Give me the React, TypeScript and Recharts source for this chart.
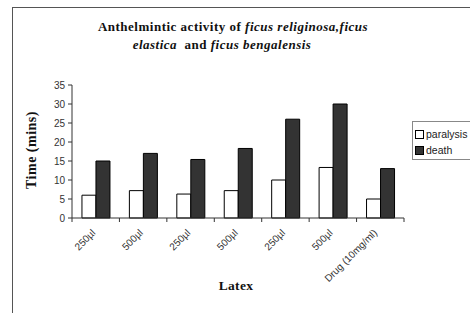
import { BarChart, Bar, XAxis, YAxis, Legend } from "recharts";

const categories = ["250µl", "500µl", "250µl", "500µl", "250µl", "500µl", "Drug (10mg/ml)"];
const paralysis = [6, 7.2, 6.3, 7.2, 10, 13.3, 5];
const death = [15, 17, 15.4, 18.3, 26, 30, 13];
const yTicks = [0, 5, 10, 15, 20, 25, 30, 35];

const data = categories.map((name, i) => ({ name, paralysis: paralysis[i], death: death[i] }));

// plot box in page pixels
const PLOT_LEFT = 72;
const PLOT_RIGHT = 404;
const PLOT_TOP = 85;
const PLOT_BOTTOM = 218;
const BAND = (PLOT_RIGHT - PLOT_LEFT) / categories.length;
const LEGEND_W = 66;

const serif = "'Liberation Serif', 'Times New Roman', serif";
const sans = "'Liberation Sans', Arial, sans-serif";

function CatTick(props: any) {
  const { x, payload, index } = props;
  const left = x - BAND / 2;
  const last = index === categories.length - 1;
  const ax = x - (last ? 5 : 2);
  const ay = PLOT_BOTTOM + 13;
  return (
    <g>
      <line x1={left} y1={PLOT_BOTTOM} x2={left} y2={PLOT_BOTTOM + 4} stroke="#333" />
      {last && <line x1={x + BAND / 2} y1={PLOT_BOTTOM} x2={x + BAND / 2} y2={PLOT_BOTTOM + 4} stroke="#333" />}
      <text
        x={ax}
        y={ay}
        transform={`rotate(-45, ${ax}, ${ay})`}
        textAnchor="end"
        dominantBaseline="central"
        fontFamily={sans}
        fontSize={10}
        fill="#333"
      >
        {payload.value}
      </text>
    </g>
  );
}

function LegendBox() {
  const row = (fill: string, label: string) => (
    <div style={{ display: "flex", alignItems: "center", height: 16 }}>
      <span
        style={{
          display: "inline-block",
          width: 7,
          height: 7,
          background: fill,
          border: "1px solid #000",
          marginRight: 2,
        }}
      />
      <span>{label}</span>
    </div>
  );
  return (
    <div
      style={{
        width: LEGEND_W,
        height: 39,
        boxSizing: "border-box",
        border: "1px solid #888",
        background: "#fff",
        fontFamily: sans,
        fontSize: 10.5,
        color: "#222",
        padding: "4px 0 0 2px",
        whiteSpace: "nowrap",
        overflow: "hidden",
      }}
    >
      {row("#fff", "paralysis")}
      {row("#333", "death")}
    </div>
  );
}

export default function App() {
  return (
    <div style={{ position: "absolute", left: 0, top: 0, width: 470, height: 313, overflow: "hidden", background: "#fff" }}>
      <div
        style={{
          position: "absolute",
          left: 12,
          top: 7,
          width: 480,
          height: 320,
          borderLeft: "1px solid #555",
          borderTop: "1px solid #555",
        }}
      />
      <div
        style={{
          position: "absolute",
          left: 0,
          top: 18,
          width: 466,
          textAlign: "center",
          fontFamily: serif,
          fontWeight: "bold",
          fontSize: 13,
          letterSpacing: 0.5,
          lineHeight: "18px",
          color: "#111",
        }}
      >
        <div>
          Anthelmintic activity of <i>ficus religinosa,ficus</i>
        </div>
        <div style={{ marginRight: 22 }}>
          <i>elastica</i>&nbsp; and <i>ficus bengalensis</i>
        </div>
      </div>
      <div
        style={{
          position: "absolute",
          left: 32,
          top: 150,
          transform: "translate(-50%, -50%) rotate(-90deg)",
          fontFamily: serif,
          fontWeight: "bold",
          fontSize: 14,
          letterSpacing: 0.5,
          whiteSpace: "nowrap",
          color: "#111",
        }}
      >
        Time (mins)
      </div>
      <div
        style={{
          position: "absolute",
          left: 236,
          top: 286,
          transform: "translate(-50%, -50%)",
          fontFamily: serif,
          fontWeight: "bold",
          fontSize: 13.5,
          letterSpacing: 0.3,
          color: "#111",
        }}
      >
        Latex
      </div>
      <div style={{ position: "absolute", left: 0, top: 0 }}>
        <BarChart
          width={470}
          height={313}
          data={data}
          margin={{ top: PLOT_TOP, left: PLOT_LEFT - 30, right: 470 - PLOT_RIGHT - LEGEND_W, bottom: 313 - PLOT_BOTTOM - 60 }}
          barCategoryGap="21%"
          barGap={0}
        >
          <XAxis
            dataKey="name"
            interval={0}
            height={60}
            tickLine={false}
            axisLine={{ stroke: "#333" }}
            tick={<CatTick />}
          />
          <XAxis xAxisId="top" orientation="top" dataKey="name" height={0} tick={false} tickLine={false} axisLine={{ stroke: "#999" }} />
          <YAxis
            domain={[0, 35]}
            ticks={yTicks}
            width={30}
            tickSize={4}
            tickMargin={3}
            axisLine={{ stroke: "#333" }}
            tickLine={{ stroke: "#333" }}
            tick={{ fontFamily: sans, fontSize: 10, fill: "#333" }}
          />
          <YAxis yAxisId="right" orientation="right" width={0} tick={false} tickLine={false} axisLine={{ stroke: "#999" }} />
          <Legend
            layout="vertical"
            align="right"
            verticalAlign="middle"
            width={LEGEND_W}
            wrapperStyle={{ left: 412, top: 121, right: "auto" }}
            content={<LegendBox />}
          />
          <Bar dataKey="paralysis" fill="#fff" stroke="#000" strokeWidth={1} isAnimationActive={false} />
          <Bar dataKey="death" fill="#333" stroke="#000" strokeWidth={1} isAnimationActive={false} />
        </BarChart>
      </div>
    </div>
  );
}
